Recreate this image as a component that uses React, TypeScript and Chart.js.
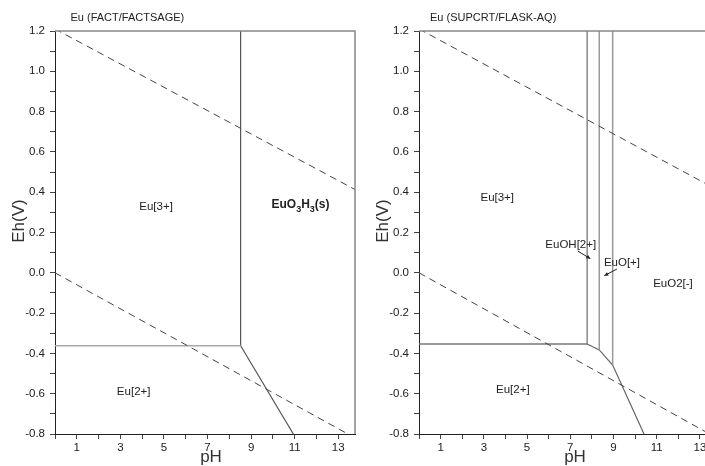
import React, { useEffect, useRef } from 'react';
import { Chart, registerables } from 'chart.js';

Chart.register(...registerables);

const FONT = '"Liberation Sans", Arial, Helvetica, sans-serif';

// Axis ranges
const EH_MIN = -0.8;
const EH_MAX = 1.2;
const PH_MIN = 0;
const LEFT_PH_MAX = 13.77;
const RIGHT_PH_MAX = 13.88;

// Water stability lines (dashed)
const WATER_UPPER_PH = [0, 14];
const WATER_UPPER_EH = [1.21, 0.4];
const WATER_LOWER_PH = [0, 14];
const WATER_LOWER_EH = [0, -0.833];

// Left panel boundaries (FACT/FACTSAGE)
const L_EU3_EU2_PH = [0, 8.52];
const L_EU3_EU2_EH = [-0.362, -0.362];
const L_EU3_SOLID_PH = [8.52, 8.52];
const L_EU3_SOLID_EH = [-0.362, 1.2];
const L_SOLID_EU2_PH = [8.52, 10.94];
const L_SOLID_EU2_EH = [-0.362, -0.8];

const L_LABELS = ['Eu[3+]', 'Eu[2+]'];
const L_LABEL_PH = [4.64, 3.61];
const L_LABEL_EH = [0.327, -0.59];
const L_SOLID_PARTS = ['EuO', '3', 'H', '3', '(s)'];
const L_SOLID_SUB = [false, true, false, true, false];
const L_SOLID_PH = 11.27;
const L_SOLID_EH = 0.336;

// Right panel boundaries (SUPCRT/FLASK-AQ)
const R_EU3_EU2_PH = [0, 7.78];
const R_EU3_EU2_EH = [-0.353, -0.353];
const R_V1_PH = [7.78, 7.78];
const R_V1_EH = [-0.353, 1.2];
const R_V2_PH = [8.34, 8.34];
const R_V2_EH = [-0.383, 1.2];
const R_V3_PH = [8.96, 8.96];
const R_V3_EH = [-0.458, 1.2];
const R_LOWER_PH = [7.78, 8.34, 8.96, 10.41];
const R_LOWER_EH = [-0.353, -0.383, -0.458, -0.8];

const R_LABELS = ['Eu[3+]', 'EuOH[2+]', 'EuO[+]', 'EuO2[-]', 'Eu[2+]'];
const R_LABEL_PH = [3.62, 7.02, 9.39, 11.75, 4.34];
const R_LABEL_EH = [0.371, 0.138, 0.049, -0.055, -0.582];

const R_ARROW_FROM_PH = [7.35, 9.16];
const R_ARROW_FROM_EH = [0.108, 0.019];
const R_ARROW_TO_PH = [7.95, 8.55];
const R_ARROW_TO_EH = [0.068, -0.016];

const zip = (xs: number[], ys: number[]) => xs.map((x, i) => ({ x, y: ys[i] }));

type PanelCfg = {
  title: string;
  titleX: number;
  phMax: number;
  lines: { xs: number[]; ys: number[]; color: string; width: number; dash?: number[] }[];
  labels: string[];
  labelPh: number[];
  labelEh: number[];
  solid?: { parts: string[]; sub: boolean[]; ph: number; eh: number };
  arrows?: { fromPh: number[]; fromEh: number[]; toPh: number[]; toEh: number[] };
};

function makePlugin(cfg: PanelCfg) {
  return {
    id: 'pourbaixDecor',
    afterDatasetsDraw(chart: any) {
      const { ctx, chartArea, scales } = chart;
      const xs = scales.x;
      const ys = scales.y;
      ctx.save();
      // top & right frame
      ctx.strokeStyle = '#888';
      ctx.lineWidth = 1.5;
      ctx.beginPath();
      ctx.moveTo(chartArea.left, chartArea.top);
      ctx.lineTo(chartArea.right, chartArea.top);
      ctx.lineTo(chartArea.right, chartArea.bottom);
      ctx.stroke();

      // title
      ctx.fillStyle = '#222';
      ctx.font = `11px ${FONT}`;
      ctx.textAlign = 'left';
      ctx.textBaseline = 'middle';
      ctx.fillText(cfg.title, cfg.titleX, 17.5);

      // axis titles
      ctx.font = `17px ${FONT}`;
      ctx.fillStyle = '#333';
      ctx.textAlign = 'center';
      ctx.fillText('pH', 211, 457);
      ctx.save();
      ctx.translate(19, 221);
      ctx.rotate(-Math.PI / 2);
      ctx.fillText('Eh(V)', 0, 0);
      ctx.restore();

      // region labels
      ctx.font = `11.5px ${FONT}`;
      ctx.fillStyle = '#222';
      ctx.textAlign = 'center';
      cfg.labels.forEach((t, i) => {
        ctx.fillText(t, xs.getPixelForValue(cfg.labelPh[i]), ys.getPixelForValue(cfg.labelEh[i]));
      });

      // solid label with subscripts
      if (cfg.solid) {
        const s = cfg.solid;
        const mainFont = `bold 12px ${FONT}`;
        const subFont = `bold 9px ${FONT}`;
        let total = 0;
        const widths = s.parts.map((p, i) => {
          ctx.font = s.sub[i] ? subFont : mainFont;
          const w = ctx.measureText(p).width;
          total += w;
          return w;
        });
        let x = xs.getPixelForValue(s.ph) - total / 2;
        const y = ys.getPixelForValue(s.eh);
        ctx.textAlign = 'left';
        s.parts.forEach((p, i) => {
          ctx.font = s.sub[i] ? subFont : mainFont;
          ctx.fillText(p, x, s.sub[i] ? y + 4 : y);
          x += widths[i];
        });
      }

      // arrows
      if (cfg.arrows) {
        const a = cfg.arrows;
        ctx.strokeStyle = '#222';
        ctx.fillStyle = '#222';
        ctx.lineWidth = 1;
        a.fromPh.forEach((_, i) => {
          const x1 = xs.getPixelForValue(a.fromPh[i]);
          const y1 = ys.getPixelForValue(a.fromEh[i]);
          const x2 = xs.getPixelForValue(a.toPh[i]);
          const y2 = ys.getPixelForValue(a.toEh[i]);
          const ang = Math.atan2(y2 - y1, x2 - x1);
          const hl = 5;
          ctx.beginPath();
          ctx.moveTo(x1, y1);
          ctx.lineTo(x2 - Math.cos(ang) * 3, y2 - Math.sin(ang) * 3);
          ctx.stroke();
          ctx.beginPath();
          ctx.moveTo(x2, y2);
          ctx.lineTo(x2 - hl * Math.cos(ang - 0.4), y2 - hl * Math.sin(ang - 0.4));
          ctx.lineTo(x2 - hl * Math.cos(ang + 0.4), y2 - hl * Math.sin(ang + 0.4));
          ctx.closePath();
          ctx.fill();
        });
      }
      ctx.restore();
    },
  };
}

function buildConfig(cfg: PanelCfg): any {
  return {
    type: 'scatter',
    data: {
      datasets: cfg.lines.map((l) => ({
        data: zip(l.xs, l.ys),
        showLine: true,
        borderColor: l.color,
        borderWidth: l.width,
        borderDash: l.dash || [],
        pointRadius: 0,
        pointHoverRadius: 0,
        fill: false,
        tension: 0,
      })),
    },
    options: {
      responsive: false,
      animation: false,
      events: [],
      layout: { padding: { top: 31, right: 5, left: 0, bottom: 0 } },
      plugins: {
        legend: { display: false },
        title: { display: false },
        tooltip: { enabled: false },
      },
      scales: {
        x: {
          type: 'linear',
          min: PH_MIN,
          max: cfg.phMax,
          afterFit: (s: any) => {
            s.height = 32;
          },
          border: { display: true, color: '#222', width: 1 },
          grid: { drawOnChartArea: false, drawTicks: true, tickLength: 5, color: '#444' },
          ticks: {
            stepSize: 1,
            includeBounds: false,
            autoSkip: false,
            maxRotation: 0,
            padding: 2,
            color: '#222',
            font: { family: FONT, size: 11.5 },
            callback: (v: number) => (Math.round(v) % 2 === 1 ? String(Math.round(v)) : ''),
          },
        },
        y: {
          type: 'linear',
          min: EH_MIN,
          max: EH_MAX,
          afterFit: (s: any) => {
            s.width = 55;
          },
          border: { display: true, color: '#222', width: 1 },
          grid: { drawOnChartArea: false, drawTicks: true, tickLength: 5, color: '#444' },
          ticks: {
            stepSize: 0.1,
            includeBounds: false,
            autoSkip: false,
            padding: 5,
            color: '#222',
            font: { family: FONT, size: 11.5 },
            callback: (v: number) => (Math.round(v * 10) % 2 === 0 ? Number(v).toFixed(1) : ''),
          },
        },
      },
    },
    plugins: [makePlugin(cfg)],
  };
}

const waterLines = [
  { xs: WATER_UPPER_PH, ys: WATER_UPPER_EH, color: '#444', width: 1, dash: [7, 5] },
  { xs: WATER_LOWER_PH, ys: WATER_LOWER_EH, color: '#444', width: 1, dash: [7, 5] },
];

const LEFT_CFG: PanelCfg = {
  title: 'Eu (FACT/FACTSAGE)',
  titleX: 70.5,
  phMax: LEFT_PH_MAX,
  lines: [
    ...waterLines,
    { xs: L_EU3_EU2_PH, ys: L_EU3_EU2_EH, color: '#aaa', width: 1.5 },
    { xs: L_EU3_SOLID_PH, ys: L_EU3_SOLID_EH, color: '#555', width: 1.2 },
    { xs: L_SOLID_EU2_PH, ys: L_SOLID_EU2_EH, color: '#555', width: 1.2 },
  ],
  labels: L_LABELS,
  labelPh: L_LABEL_PH,
  labelEh: L_LABEL_EH,
  solid: { parts: L_SOLID_PARTS, sub: L_SOLID_SUB, ph: L_SOLID_PH, eh: L_SOLID_EH },
};

const RIGHT_CFG: PanelCfg = {
  title: 'Eu (SUPCRT/FLASK-AQ)',
  titleX: 66,
  phMax: RIGHT_PH_MAX,
  lines: [
    ...waterLines,
    { xs: R_EU3_EU2_PH, ys: R_EU3_EU2_EH, color: '#777', width: 1.5 },
    { xs: R_V1_PH, ys: R_V1_EH, color: '#888', width: 1.5 },
    { xs: R_V2_PH, ys: R_V2_EH, color: '#999', width: 1.5 },
    { xs: R_V3_PH, ys: R_V3_EH, color: '#999', width: 1.5 },
    { xs: R_LOWER_PH, ys: R_LOWER_EH, color: '#666', width: 1.2 },
  ],
  labels: R_LABELS,
  labelPh: R_LABEL_PH,
  labelEh: R_LABEL_EH,
  arrows: { fromPh: R_ARROW_FROM_PH, fromEh: R_ARROW_FROM_EH, toPh: R_ARROW_TO_PH, toEh: R_ARROW_TO_EH },
};

function Panel({ cfg, left }: { cfg: PanelCfg; left: number }) {
  const ref = useRef<HTMLCanvasElement | null>(null);
  useEffect(() => {
    if (!ref.current) return;
    const chart = new Chart(ref.current, buildConfig(cfg));
    return () => chart.destroy();
  }, [cfg]);
  return (
    <div style={{ position: 'absolute', left, top: 0, width: 360, height: 466 }}>
      <canvas ref={ref} width={360} height={466} style={{ display: 'block', width: 360, height: 466 }} />
    </div>
  );
}

export default function App() {
  return (
    <div
      style={{
        position: 'fixed',
        left: 0,
        top: 0,
        width: 705,
        height: 466,
        overflow: 'hidden',
        background: '#fff',
      }}
    >
      <Panel cfg={LEFT_CFG} left={0} />
      <Panel cfg={RIGHT_CFG} left={364} />
    </div>
  );
}
